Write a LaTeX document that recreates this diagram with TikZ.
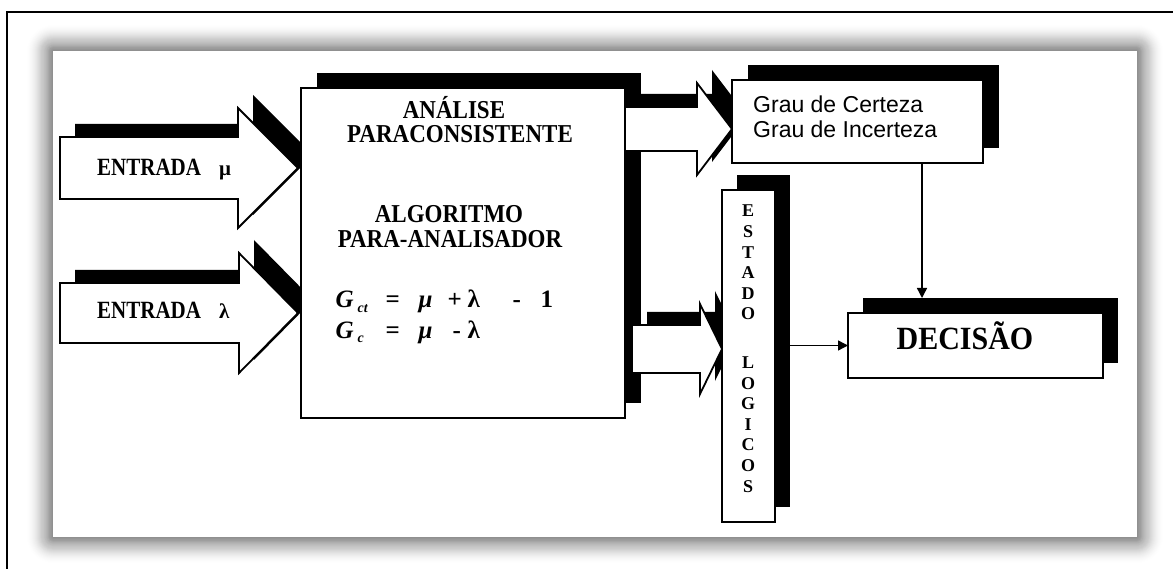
\documentclass[tikz,border=0pt]{standalone}
\usepackage{fontspec}
\setmainfont{Liberation Serif}
\newfontfamily\sansgrau{Liberation Sans}
\usetikzlibrary{shadows,arrows.meta}

% block arrow pointing right, with a black drop copy up and to the right
% #1 name, #2 tail x, #3 head x, #4 tip x, #5 centre y, #6 body half height, #7 head half height
\newcommand\blockarrow[7]{%
  \fill[black,shift={(15,-13)}] (#2,#5-#6) -- (#3,#5-#6) -- (#3,#5-#7) -- (#4,#5)
     -- (#3,#5+#7) -- (#3,#5+#6) -- (#2,#5+#6) -- cycle;
  \draw[arrowbody] (#2,#5-#6) -- (#3,#5-#6) -- (#3,#5-#7) -- (#4,#5)
     -- (#3,#5+#7) -- (#3,#5+#6) -- (#2,#5+#6) -- cycle;
  \coordinate (#1) at (#4,#5);
}
% place a piece of a formula at a fixed offset from the start of the line
\newcommand\atx[2]{\makebox[0pt][l]{\hspace{#1}#2}}
% slightly taller lettering
\newcommand\tall[2][1.12]{\scalebox{1}[#1]{#2}}

\begin{document}
\begin{tikzpicture}[x=1pt,y=-1pt,
  arrowbody/.style={draw=black,line width=1.8pt,fill=white,line join=miter},
  box/.style={draw=black,line width=1.8pt,fill=white,inner sep=0pt,outer sep=0pt,
     general shadow={shadow xshift=#1pt,shadow yshift=15pt,fill=black}},
  box/.default=15,
  title/.style={font=\fontsize{23}{26}\selectfont\bfseries,inner sep=0pt,anchor=base},
  formula/.style={font=\fontsize{25}{28}\selectfont\bfseries,inner sep=0pt,anchor=base west},
  entrada/.style={font=\fontsize{21}{24}\selectfont\bfseries,inner sep=0pt,anchor=base west},
  grautxt/.style={font=\sansgrau\fontsize{23}{26}\selectfont,inner sep=0pt,anchor=base west},
  conn/.style={draw=black,line width=1.4pt,-{Triangle[length=10pt,width=10pt]}}
]
\useasboundingbox (0,0) rectangle (1173,569);

% soft shadow around the white panel, fading outwards
\foreach \i in {1,...,27}{
  \pgfmathsetmacro\op{0.042*(1-\i/28)}
  \fill[black,opacity=\op,rounded corners=\i pt] (53-\i,51-\i) rectangle (1137+\i,537+\i);
}
\fill[white] (53,51) rectangle (1137,537);

% outer frame
\draw[line width=2.5pt] (7,569) -- (7,12) -- (1173,12);

% inputs
\blockarrow{inMuTip}{60}{238}{298}{168}{31}{60}
\blockarrow{inLaTip}{60}{239}{298}{313}{30}{60}
\node[entrada] (inMu) at (97,176) {\tall[1.18]{ENTRADA}\hspace{18pt}μ};
\node[entrada] (inLa) at (97,319) {\tall[1.18]{ENTRADA}\hspace{18pt}λ};

% central processing block
\node[box=16,minimum width=324pt,minimum height=330pt,anchor=north west] (main) at (301,88) {};
\node[title] (t1) at (454,119) {\tall{ANÁLISE}};
\node[title] (t2) at (460,143) {\tall{PARACONSISTENTE}};
\node[title] (t3) at (449,223) {\tall{ALGORITMO}};
\node[title] (t4) at (450,248) {\tall{PARA-ANALISADOR}};
\node[formula] (f1) at (335,308) {%
  \atx{0pt}{\itshape G}\atx{22pt}{\raisebox{-5pt}{\fontsize{14}{14}\selectfont\itshape ct}}%
  \atx{50pt}{=}\atx{83pt}{\itshape μ}\atx{112pt}{+}\atx{132pt}{λ}\atx{177pt}{-}\atx{205pt}{1}};
\node[formula] (f2) at (335,338) {%
  \atx{0pt}{\itshape G}\atx{22pt}{\raisebox{-5pt}{\fontsize{14}{14}\selectfont\itshape c}}%
  \atx{50pt}{=}\atx{83pt}{\itshape μ}\atx{117pt}{-}\atx{132pt}{λ}};

% outputs of the central block
\blockarrow{outGTip}{625}{697}{732}{129}{22}{46}
\blockarrow{outETip}{632}{700}{722}{349}{24}{45}

% degree box
\node[box=16,minimum width=251pt,minimum height=83pt,anchor=north west] (grau) at (732,80) {};
\node[grautxt] (g1) at (753,113) {Grau de Certeza};
\node[grautxt] (g2) at (753,138) {Grau de Incerteza};

% logic states column
\node[box=15,minimum width=53pt,minimum height=332pt,anchor=north west] (est) at (722,190) {};
\node[font=\fontsize{18}{20.6}\selectfont\bfseries,align=center,inner sep=0pt,anchor=north] (estTxt) at (748,205)
  {E\\S\\T\\A\\D\\O\\[27.9pt]L\\O\\G\\I\\C\\O\\S};

% decision box
\node[box=15,minimum width=255pt,minimum height=65pt,anchor=north west] (dec) at (848,313) {};
\node[font=\fontsize{30}{33}\selectfont\bfseries,inner sep=0pt,anchor=base] (decTxt) at (965,350) {\tall[1.08]{DECISÃO}};

% thin connectors
\path ([xshift=15pt]est.east) coordinate (estR);
\draw[conn] ([xshift=190pt]grau.south west) -- ([xshift=74pt,yshift=15pt]dec.north west);
\draw[conn] (estR |- dec.west) -- (dec.west);
\end{tikzpicture}
\end{document}
